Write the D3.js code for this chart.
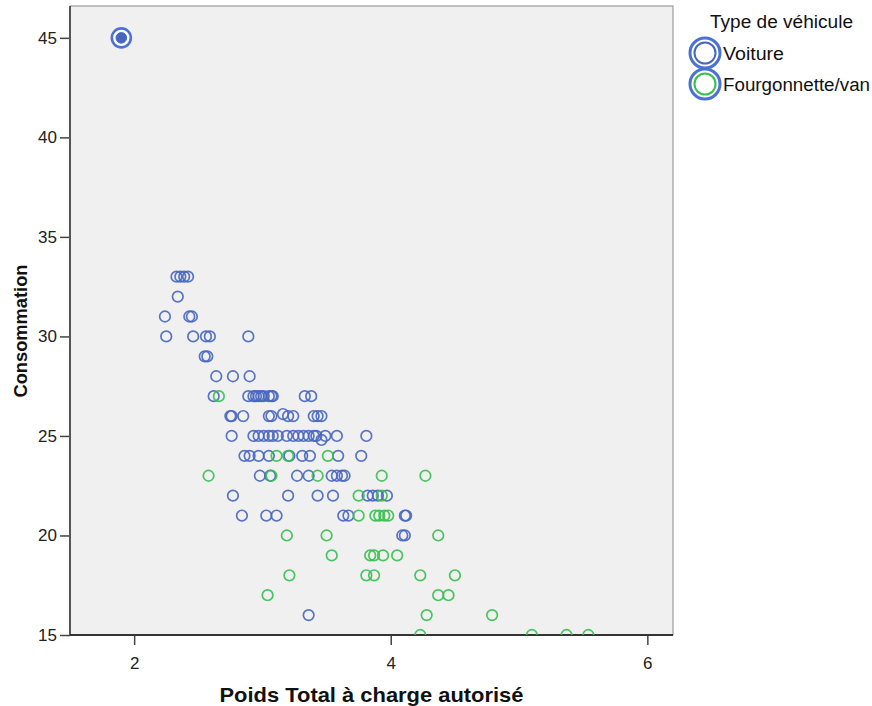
<!DOCTYPE html>
<html>
<head>
<meta charset="utf-8">
<script src="https://cdn.jsdelivr.net/npm/d3@7"></script>
<style>
  html, body { margin: 0; padding: 0; background: #ffffff; }
  svg { display: block; font-family: "Liberation Sans", Arial, sans-serif; }
</style>
</head>
<body>
<svg id="chart" width="872" height="706"></svg>
<script>
// ---- Data ----
const seriesNames = ["Voiture", "Fourgonnette/van"];
const legendTitle = "Type de véhicule";
const xTitle = "Poids Total à charge autorisé";
const yTitle = "Consommation";
const xTicks = [2, 4, 6];
const yTicks = [15, 20, 25, 30, 35, 40, 45];

// Voiture (blue)
const voiturePoids = [
  1.90,
  2.33, 2.36, 2.39, 2.42,
  2.34,
  2.24, 2.43, 2.45,
  2.25, 2.46, 2.56, 2.59, 2.89,
  2.55, 2.57,
  2.64, 2.77, 2.90,
  2.62, 2.89, 2.93, 2.95, 2.97, 2.99, 3.01, 3.05, 3.07, 3.08, 3.33, 3.38,
  2.75, 2.76, 2.85, 3.05, 3.07, 3.20, 3.24, 3.40, 3.43, 3.46, 3.16,
  2.76, 2.93, 2.97, 3.01, 3.05, 3.08, 3.12, 3.19, 3.24, 3.28, 3.32, 3.36, 3.40, 3.42, 3.49, 3.58, 3.81, 3.46,
  2.86, 2.90, 2.97, 3.05, 3.21, 3.31, 3.37, 3.59, 3.77,
  2.98, 3.06, 3.27, 3.36, 3.54, 3.58, 3.62, 3.64,
  2.77, 3.20, 3.43, 3.55, 3.82, 3.86, 3.90, 3.97,
  2.84, 3.03, 3.11, 3.63, 3.67, 4.11, 4.12,
  4.09, 4.11,
  3.36
];
const voitureConso = [
  45,
  33, 33, 33, 33,
  32,
  31, 31, 31,
  30, 30, 30, 30, 30,
  29, 29,
  28, 28, 28,
  27, 27, 27, 27, 27, 27, 27, 27, 27, 27, 27, 27,
  26, 26, 26, 26, 26, 26, 26, 26, 26, 26, 26.1,
  25, 25, 25, 25, 25, 25, 25, 25, 25, 25, 25, 25, 25, 25, 25, 25, 25, 24.8,
  24, 24, 24, 24, 24, 24, 24, 24, 24,
  23, 23, 23, 23, 23, 23, 23, 23,
  22, 22, 22, 22, 22, 22, 22, 22,
  21, 21, 21, 21, 21, 21, 21,
  20, 20,
  16
];

// Fourgonnette/van (green)
const vanPoids = [
  2.66,
  3.11, 3.20, 3.51,
  2.58, 3.07, 3.43, 3.93, 4.27,
  3.75, 3.93,
  3.75, 3.88, 3.91, 3.95, 3.98,
  3.19, 3.50, 4.37,
  3.54, 3.84, 3.87, 3.94, 4.05,
  3.21, 3.81, 3.87, 4.23, 4.50,
  3.04, 4.37, 4.45,
  4.28, 4.79,
  4.23, 5.10, 5.37, 5.54
];
const vanConso = [
  27,
  24, 24, 24,
  23, 23, 23, 23, 23,
  22, 22,
  21, 21, 21, 21, 21,
  20, 20, 20,
  19, 19, 19, 19, 19,
  18, 18, 18, 18, 18,
  17, 17, 17,
  16, 16,
  15, 15, 15, 15
];

const highlighted = [{ x: 1.90, y: 45 }];

// ---- Drawing ----
const colors = ["#4766C0", "#35C04C"];
const selColor = "#4A72D6";
const svg = d3.select("#chart");
const plot = { left: 70, right: 673, top: 6, bottom: 635 };

const x = d3.scaleLinear().domain([1.5, 6.2]).range([plot.left, plot.right]);
const y = d3.scaleLinear().domain([15, 46.6]).range([plot.bottom, plot.top]);

// plot background
svg.append("rect")
  .attr("x", plot.left).attr("y", plot.top)
  .attr("width", plot.right - plot.left).attr("height", plot.bottom - plot.top)
  .attr("fill", "#f0f0f0")
  .attr("stroke", "#8a8a8a").attr("stroke-width", 1);

svg.append("defs").append("clipPath").attr("id", "clip")
  .append("rect")
  .attr("x", plot.left).attr("y", plot.top)
  .attr("width", plot.right - plot.left).attr("height", plot.bottom - plot.top);

// axes
const yAxis = d3.axisLeft(y).tickValues(yTicks).tickSize(10).tickPadding(3).tickFormat(d3.format("d"));
const gy = svg.append("g").attr("transform", `translate(${plot.left},0)`).call(yAxis);
const xAxis = d3.axisBottom(x).tickValues(xTicks).tickSize(10).tickPadding(12).tickFormat(d3.format("d"));
const gx = svg.append("g").attr("transform", `translate(0,${plot.bottom})`).call(xAxis);

[gx, gy].forEach(g => {
  g.select(".domain").remove();
  g.selectAll(".tick line").attr("stroke", "#444").attr("stroke-width", 1.5);
  g.selectAll(".tick text").attr("fill", "#222").style("font-size", "17px")
    .style("font-family", '"Liberation Sans", Arial, sans-serif');
});

// dark left/bottom axis lines
svg.append("line").attr("x1", plot.left).attr("x2", plot.left)
  .attr("y1", plot.top).attr("y2", plot.bottom)
  .attr("stroke", "#555").attr("stroke-width", 2);
svg.append("line").attr("x1", plot.left).attr("x2", plot.right)
  .attr("y1", plot.bottom).attr("y2", plot.bottom)
  .attr("stroke", "#333").attr("stroke-width", 2);

// points
const pts = svg.append("g").attr("clip-path", "url(#clip)");
const series = [
  { px: voiturePoids, py: voitureConso, color: colors[0] },
  { px: vanPoids, py: vanConso, color: colors[1] }
];
series.forEach(s => {
  const data = s.px.map((v, i) => ({ x: v, y: s.py[i] }));
  pts.selectAll(null).data(data).enter().append("circle")
    .attr("cx", d => x(d.x)).attr("cy", d => y(d.y))
    .attr("r", 5.3)
    .attr("fill", "none")
    .attr("stroke", s.color)
    .attr("stroke-width", 1.7)
    .attr("stroke-opacity", 0.9);
});

// highlighted (selected) point
highlighted.forEach(h => {
  svg.append("circle").attr("cx", x(h.x)).attr("cy", y(h.y)).attr("r", 9.5)
    .attr("fill", "#ffffff").attr("stroke", selColor).attr("stroke-width", 2.6);
  svg.append("circle").attr("cx", x(h.x)).attr("cy", y(h.y)).attr("r", 5.3)
    .attr("fill", colors[0]).attr("stroke", colors[0]).attr("stroke-width", 1);
});

// axis titles
svg.append("text")
  .attr("x", (plot.left + plot.right) / 2).attr("y", 702)
  .attr("text-anchor", "middle")
  .attr("font-weight", "bold").attr("font-size", 21)
  .attr("fill", "#111")
  .attr("textLength", 304).attr("lengthAdjust", "spacingAndGlyphs")
  .text(xTitle);

svg.append("text")
  .attr("transform", "translate(27,331) rotate(-90)")
  .attr("text-anchor", "middle")
  .attr("font-weight", "bold").attr("font-size", 19)
  .attr("fill", "#111")
  .attr("textLength", 133).attr("lengthAdjust", "spacingAndGlyphs")
  .text(yTitle);

// legend
const lg = svg.append("g");
lg.append("text").attr("x", 710).attr("y", 28)
  .attr("font-size", 18).attr("fill", "#111")
  .attr("textLength", 143).attr("lengthAdjust", "spacingAndGlyphs")
  .text(legendTitle);
const legendY = [53, 84];
const legendLen = [61, 147];
seriesNames.forEach((name, i) => {
  lg.append("circle").attr("cx", 705).attr("cy", legendY[i]).attr("r", 15)
    .attr("fill", "#ffffff").attr("stroke", selColor).attr("stroke-width", 3);
  lg.append("circle").attr("cx", 705).attr("cy", legendY[i]).attr("r", 10.5)
    .attr("fill", "none").attr("stroke", colors[i]).attr("stroke-width", 2);
  lg.append("text").attr("x", 723).attr("y", legendY[i] + 7)
    .attr("font-size", 18).attr("fill", "#111")
    .attr("textLength", legendLen[i]).attr("lengthAdjust", "spacingAndGlyphs")
    .text(name);
});
</script>
</body>
</html>
